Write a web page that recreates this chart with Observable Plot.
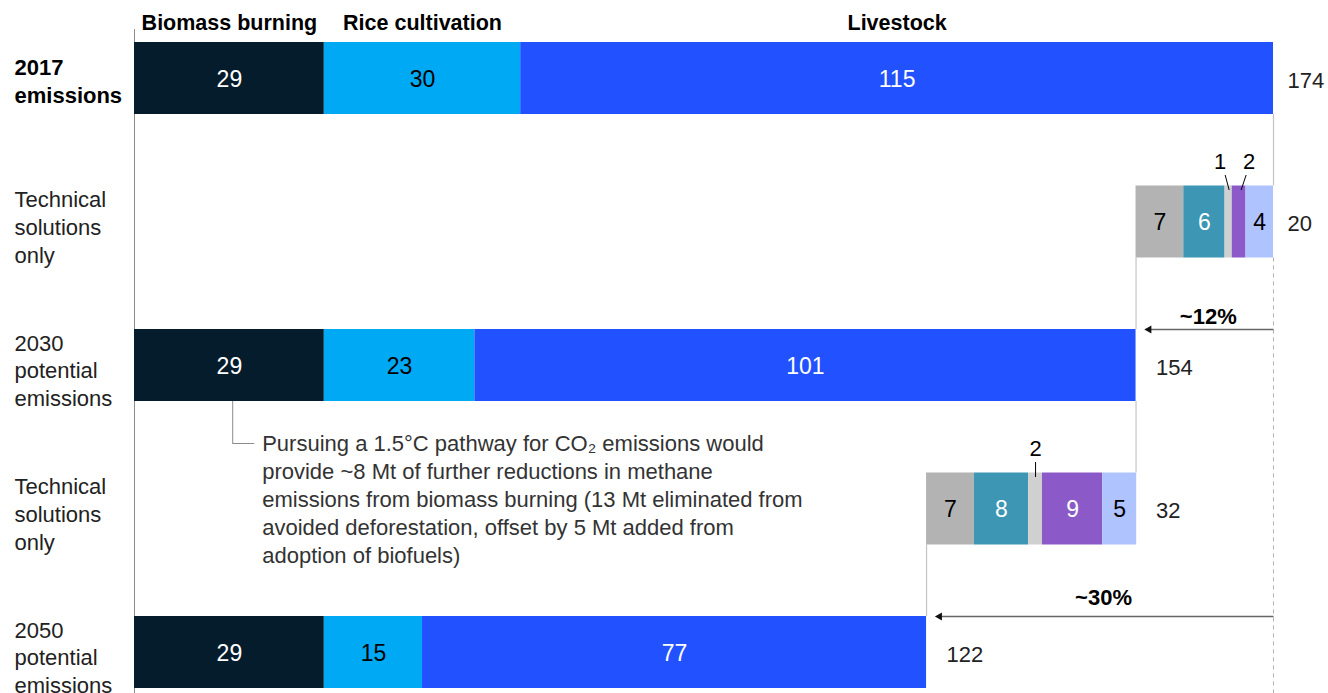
<!DOCTYPE html>
<html><head><meta charset="utf-8">
<script src="https://cdn.jsdelivr.net/npm/d3@7"></script>
<script src="https://cdn.jsdelivr.net/npm/@observablehq/plot@0.6"></script>
<style>
body{margin:0;background:#fff;}
#chart svg{display:block;}
</style>
</head><body><div id="chart"></div>
<script>
// ---------- data ----------
const rowLabels = ["2017\nemissions", "Technical\nsolutions\nonly", "2030\npotential\nemissions", "Technical\nsolutions\nonly", "2050\npotential\nemissions"];
const sources = ["Biomass burning", "Rice cultivation", "Livestock"];
const emissions2017 = [29, 30, 115];
const emissions2030 = [29, 23, 101];
const emissions2050 = [29, 15, 77];
const totalLabels2017 = "174";
const totalLabels2030 = "154";
const totalLabels2050 = "122";
const techSolutions2030 = [7.3, 6.3, 1.1, 2.1, 4.2];
const techSolutions2030Labels = ["7", "6", "1", "2", "4"];
const techSolutions2050 = [7.3, 8.3, 2.1, 9.2, 5.2];
const techSolutions2050Labels = ["7", "8", "2", "9", "5"];
const techTotalLabels = ["20", "32"];
const reductionLabels = ["~12%", "~30%"];
const annotationText = "Pursuing a 1.5°C pathway for CO₂ emissions would\nprovide ~8 Mt of further reductions in methane\nemissions from biomass burning (13 Mt eliminated from\navoided deforestation, offset by 5 Mt added from\nadoption of biofuels)";

// ---------- styles ----------
const sourceColors = ["#051c2c", "#00a9f4", "#2251ff"];
const sourceTextColors = ["#ffffff", "#000000", "#ffffff"];
const techColors = ["#b3b3b3", "#3c96b4", "#d0d0d0", "#8c5ac8", "#afc3ff"];
const techTextColors = ["#000000", "#ffffff", "#000000", "#ffffff", "#000000"];
const FONT = "'Liberation Sans', Arial, Helvetica, sans-serif";

// pixel helpers (converted through the scales' fixed domain/range)
const X0 = 134, X1 = 1273, Y0 = 78, Y4 = 652;
const kx = 174 / (X1 - X0);
const ky = 4 / (Y4 - Y0);
const half = 36 * ky;

function stack(values, labels, row, start, colors, textColors) {
  let x = start;
  return values.map((v, i) => {
    const s = {row, x1: x, x2: x + v, fill: colors[i], label: labels[i], textFill: textColors[i], small: v < 3};
    x += v;
    return s;
  });
}
const total2017 = d3.sum(emissions2017);
const total2030 = d3.sum(emissions2030);
const total2050 = d3.sum(emissions2050);

const segs = [
  ...stack(emissions2017, emissions2017.map(String), 0, 0, sourceColors, sourceTextColors),
  ...stack(techSolutions2030, techSolutions2030Labels, 1, total2030, techColors, techTextColors),
  ...stack(emissions2030, emissions2030.map(String), 2, 0, sourceColors, sourceTextColors),
  ...stack(techSolutions2050, techSolutions2050Labels, 3, total2050, techColors, techTextColors),
  ...stack(emissions2050, emissions2050.map(String), 4, 0, sourceColors, sourceTextColors)
];

// small segments: label above with a leader
const smallLayout = [
  {labelDx: -8.5, topDx: -3.5, botDx: 0.5},
  {labelDx: 10, topDx: 7, botDx: 2},
  {labelDx: 0, topDx: 0, botDx: 0}
];
const smalls = segs.filter(d => d.small).map((d, i) => {
  const c = (d.x1 + d.x2) / 2, L = smallLayout[i], top = d.row - half;
  return {
    label: d.label,
    lx: c + L.labelDx * kx, ly: top - 24 * ky,
    ax: c + L.topDx * kx, ay: top - 11 * ky,
    bx: c + L.botDx * kx, by: top + 4 * ky
  };
});

const connectors = [
  {x: total2017, y1: 0 + half, y2: 1 - half},
  {x: total2030, y1: 1 + half, y2: 2 - half},
  {x: total2030, y1: 2 + half, y2: 3 - half},
  {x: total2050, y1: 3 + half, y2: 4 - half}
];

const totalsA = [
  {x: total2017, row: 0, text: totalLabels2017},
  {x: total2017, row: 1, text: techTotalLabels[0]}
];
const totalsB = [
  {x: total2030, row: 2, text: totalLabels2030},
  {x: total2030, row: 3, text: techTotalLabels[1]},
  {x: total2050, row: 4, text: totalLabels2050}
];

const arrows = [
  {from: total2017, tip: total2030 + 7 * kx, y: 2 - half, label: reductionLabels[0], ly: 2 - half - 13 * ky},
  {from: total2017, tip: total2050 + 7 * kx, y: 4 - half, label: reductionLabels[1], ly: 4 - half - 19 * ky}
];

const headers = stack(emissions2017, sources, 0, 0, sourceColors, sourceTextColors);

const calloutX = emissions2030[0] / 2 + 0.5;
const calloutY = 2 + half + 42 * ky;

const chart = Plot.plot({
  width: 1328, height: 693,
  marginLeft: 0, marginRight: 0, marginTop: 29, marginBottom: 0,
  x: {domain: [0, 174], range: [X0, X1], axis: null},
  y: {domain: [0, 4], range: [Y0, Y4], axis: null},
  color: {type: "identity"},
  style: {fontFamily: FONT, background: "#fff", color: "#000"},
  marks: [
    Plot.ruleX([0], {stroke: "#8c8c8c", strokeWidth: 1}),
    Plot.ruleX(connectors, {x: "x", y1: "y1", y2: "y2", stroke: "#c4c4c4", strokeWidth: 1.2}),
    Plot.ruleX([total2017], {y1: 1 + half, y2: 4.4, stroke: "#b0b0b0", strokeWidth: 1, strokeDasharray: "4,4"}),
    Plot.rect(segs, {x1: "x1", x2: "x2", y1: d => d.row - half, y2: d => d.row + half, fill: "fill"}),
    Plot.text(segs.filter(d => !d.small), {x: d => (d.x1 + d.x2) / 2, y: "row", text: "label", fill: "textFill", fontSize: 23, dy: 1}),
    Plot.link(smalls, {x1: "ax", y1: "ay", x2: "bx", y2: "by", stroke: "#000", strokeWidth: 1}),
    Plot.text(smalls, {x: "lx", y: "ly", text: "label", fill: "#000", fontSize: 22}),
    Plot.text(headers, {x: d => (d.x1 + d.x2) / 2, y: d => d.row - half, text: "label", dy: -19, fontSize: 21.5, fontWeight: "bold", fill: "#000"}),
    Plot.text([rowLabels[0]], {frameAnchor: "left", y: [0], text: d => d, dx: 14, dy: 2, textAnchor: "start", fontSize: 22, fontWeight: "bold", lineHeight: 1.27, fill: "#000"}),
    Plot.text(rowLabels.slice(1), {frameAnchor: "left", y: (d, i) => i + 1, text: d => d, dx: 14, dy: 4, textAnchor: "start", fontSize: 22, lineHeight: 1.26, fill: "#222"}),
    Plot.text(totalsA, {x: "x", y: "row", text: "text", dx: 14, textAnchor: "start", fontSize: 22, fill: "#222", dy: 2}),
    Plot.text(totalsB, {x: "x", y: "row", text: "text", dx: 20, textAnchor: "start", fontSize: 22, fill: "#222", dy: 2}),
    Plot.link(arrows, {x1: "from", x2: d => d.tip + 5 * kx, y1: "y", y2: "y", stroke: "#666", strokeWidth: 1.6}),
    Plot.dot(arrows, {x: d => d.tip + 6 * kx, y: "y", symbol: "triangle2", r: 3.9, rotate: -90, fill: "#111", stroke: "none"}),
    Plot.text(arrows, {x: d => (d.from + d.tip) / 2, y: "ly", text: "label", fontSize: 22, fontWeight: "bold", fill: "#000"}),
    Plot.ruleX([calloutX], {y1: 2 + half, y2: calloutY, stroke: "#8c8c8c", strokeWidth: 1}),
    Plot.ruleY([calloutY], {x1: calloutX, x2: calloutX + 22 * kx, stroke: "#8c8c8c", strokeWidth: 1}),
    Plot.text([annotationText], {x: calloutX + 29.5 * kx, y: calloutY, text: d => d, textAnchor: "start", lineAnchor: "top", dy: -12, fontSize: 22, lineHeight: 1.27, fill: "#333"})
  ]
});
document.getElementById("chart").appendChild(chart);
</script>
</body></html>
